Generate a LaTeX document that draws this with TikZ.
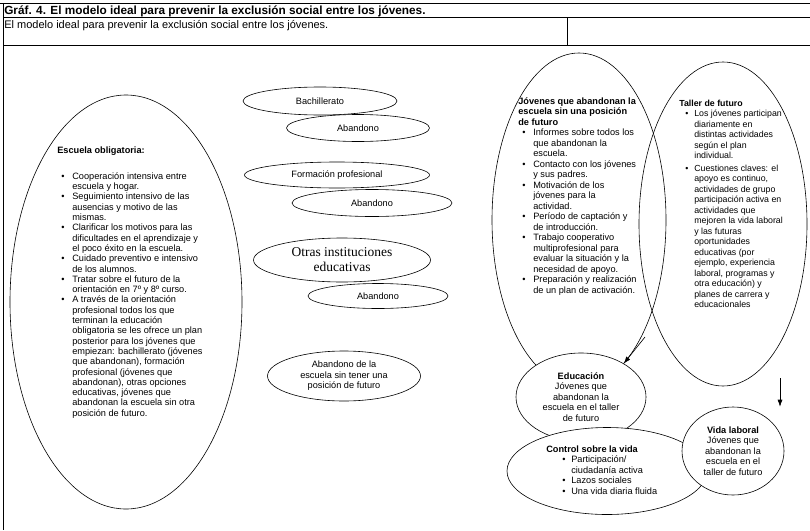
\documentclass[tikz,border=0pt]{standalone}
\usepackage{fontspec}
\setmainfont{Liberation Sans}
\newfontfamily\timesfont{Liberation Serif}
\usetikzlibrary{shapes.geometric,arrows.meta,positioning}

\newcommand{\txt}{\fontsize{9.2}{10.5}\selectfont}
\newcommand{\bl}[2]{\makebox[#2][l]{\hspace{#1}\textbullet}}

\begin{document}
\begin{tikzpicture}[x=1pt,y=-1pt,line width=0.6pt,
    oval/.style={ellipse, draw, fill=white, inner sep=0pt, align=center, font=\txt},
    bigoval/.style={ellipse, draw, inner sep=0pt},
    txtblock/.style={anchor=base west, inner sep=0pt, font=\txt},
    arr/.style={-{Latex[length=7pt,width=5pt]}}]
    \path[use as bounding box, fill=white] (0,0) rectangle (810,530);
    % Draw the table frame
    \draw (0,3) -- (810,3);
    \draw (3,3) -- (3,530);
    \draw (3,17) -- (810,17);
    \draw (567,17) -- (567,45);
    \draw (3,45) -- (810,45);
    \node[anchor=base west, inner sep=0pt, font=\fontsize{11.8}{13}\selectfont\bfseries] (title) at (4,14)
        {Gráf. 4. El modelo ideal para prevenir la exclusión social entre los jóvenes.};
    \node[anchor=base west, inner sep=0pt, font=\fontsize{11}{12}\selectfont] (subtitle) at (4,28)
        {El modelo ideal para prevenir la exclusión social entre los jóvenes.};
    % Draw the big ellipses
    \node[bigoval, minimum width=232pt, minimum height=414pt] (escuela) at (126,302) {};
    \node[bigoval, minimum width=174pt, minimum height=334pt] (jovenes) at (579,220) {};
    \node[bigoval, minimum width=168pt, minimum height=324pt] (taller) at (723,224) {};
    % Texts in the big ellipses
    \node[txtblock, font=\fontsize{9.2}{10.3}\selectfont] (escuelaText) at (57,153) {\begin{tabular}[t]{@{}l@{}l@{}}
        \multicolumn{2}{@{}l@{}}{\textbf{Escuela obligatoria:}}\\[16pt]
        \bl{4pt}{15pt} & Cooperación intensiva entre\\
         & escuela y hogar.\\
        \bl{4pt}{15pt} & Seguimiento intensivo de las\\
         & ausencias y motivo de las\\
         & mismas.\\
        \bl{4pt}{15pt} & Clarificar los motivos para las\\
         & dificultades en el aprendizaje y\\
         & el poco éxito en la escuela.\\
        \bl{4pt}{15pt} & Cuidado preventivo e intensivo\\
         & de los alumnos.\\
        \bl{4pt}{15pt} & Tratar sobre el futuro de la\\
         & orientación en 7º y 8º curso.\\
        \bl{4pt}{15pt} & A través de la orientación\\
         & profesional todos los que\\
         & terminan la educación\\
         & obligatoria se les ofrece un plan\\
         & posterior para los jóvenes que\\
         & empiezan: bachillerato (jóvenes\\
         & que abandonan), formación\\
         & profesional (jóvenes que\\
         & abandonan), otras opciones\\
         & educativas, jóvenes que\\
         & abandonan la escuela sin otra\\
         & posición de futuro.
        \end{tabular}};
    \node[txtblock] (jovenesText) at (518,104) {\begin{tabular}[t]{@{}l@{}l@{}}
        \multicolumn{2}{@{}l@{}}{\textbf{Jóvenes que abandonan la}}\\
        \multicolumn{2}{@{}l@{}}{\textbf{escuela sin una posición}}\\
        \multicolumn{2}{@{}l@{}}{\textbf{de futuro}}\\
        \bl{4pt}{15pt} & Informes sobre todos los\\
         & que abandonan la\\
         & escuela.\\
        \bl{4pt}{15pt} & Contacto con los jóvenes\\
         & y sus padres.\\
        \bl{4pt}{15pt} & Motivación de los\\
         & jóvenes para la\\
         & actividad.\\
        \bl{4pt}{15pt} & Período de captación y\\
         & de introducción.\\
        \bl{4pt}{15pt} & Trabajo cooperativo\\
         & multiprofesional para\\
         & evaluar la situación y la\\
         & necesidad de apoyo.\\
        \bl{4pt}{15pt} & Preparación y realización\\
         & de un plan de activación.
        \end{tabular}};
    \node[txtblock, font=\fontsize{8.8}{10.5}\selectfont] (tallerText) at (679,106) {\begin{tabular}[t]{@{}l@{}l@{}}
        \multicolumn{2}{@{}l@{}}{\textbf{Taller de futuro}}\\
        \bl{6pt}{15pt} & Los jóvenes participan\\
         & diariamente en\\
         & distintas actividades\\
         & según el plan\\
         & individual.\\[2pt]
        \bl{6pt}{15pt} & Cuestiones claves: el\\
         & apoyo es continuo,\\
         & actividades de grupo\\
         & participación activa en\\
         & actividades que\\
         & mejoren la vida laboral\\
         & y las futuras\\
         & oportunidades\\
         & educativas (por\\
         & ejemplo, experiencia\\
         & laboral, programas y\\
         & otra educación) y\\
         & planes de carrera y\\
         & educacionales
        \end{tabular}};
    % Draw the middle ellipses
    \node[oval, minimum width=154pt, minimum height=28pt] (bach) at (320,101) {Bachillerato};
    \node[oval, minimum width=143pt, minimum height=27pt] (abBach) at (358,128) {Abandono};
    \node[oval, minimum width=185pt, minimum height=26pt] (form) at (337,175) {Formación profesional};
    \node[oval, minimum width=160pt, minimum height=27pt] (abForm) at (372,203) {Abandono};
    \node[oval, minimum width=177pt, minimum height=44pt, font=\timesfont\fontsize{13.5}{15}\selectfont] (otras) at (342,260)
        {Otras instituciones\\educativas};
    \node[oval, minimum width=140pt, minimum height=25pt] (abOtras) at (378,296) {Abandono};
    \node[oval, minimum width=153pt, minimum height=50pt] (abSin) at (344,376)
        {Abandono de la\\escuela sin tener una\\posición de futuro};
    % Draw the lower right ellipses
    \node[oval, minimum width=130pt, minimum height=88pt] (educ) at (581,397)
        {\textbf{Educación}\\Jóvenes que\\abandonan la\\escuela en el taller\\de futuro};
    \node[oval, minimum width=200pt, minimum height=87pt] (control) at (607,471) {};
    \node[txtblock] (controlText) at (546,452) {\begin{tabular}[t]{@{}l@{}l@{}}
        \multicolumn{2}{@{}l@{}}{\textbf{Control sobre la vida}}\\
        \bl{16pt}{25pt} & Participación/\\
         & ciudadanía activa\\
        \bl{16pt}{25pt} & Lazos sociales\\
        \bl{16pt}{25pt} & Una vida diaria fluida
        \end{tabular}};
    \node[oval, minimum width=102pt, minimum height=88pt] (vida) at (733,451)
        {\textbf{Vida laboral}\\Jóvenes que\\abandonan la\\escuela en el\\taller de futuro};
    % Draw connecting arrows
    \coordinate (startEduc) at (645,337);
    \coordinate (startVida) at (780,378);
    \draw[arr] (startEduc) -- (educ.38);
    \draw[arr] (startVida) -- (startVida |- vida.north);
\end{tikzpicture}
\end{document}
